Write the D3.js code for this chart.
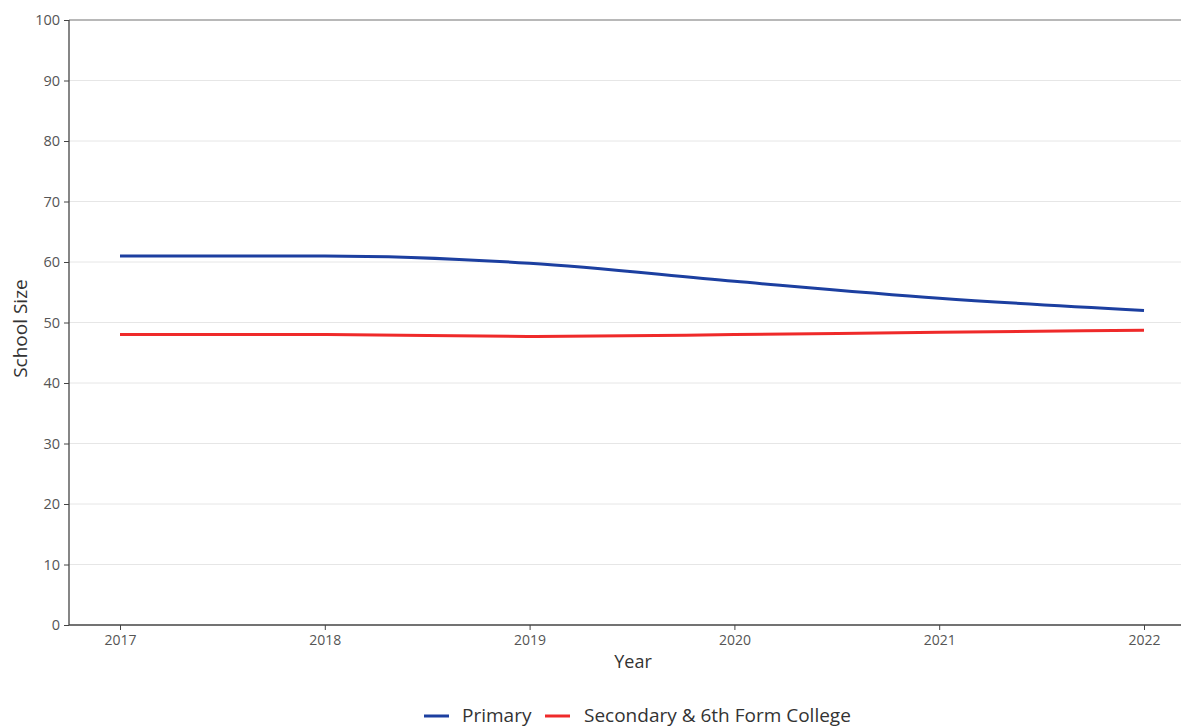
<!DOCTYPE html>
<html><head><meta charset="utf-8">
<script src="https://cdn.jsdelivr.net/npm/d3@7"></script>
<style>body{margin:0;background:#fff;font-family:"Open Sans","Noto Sans",sans-serif;}</style>
</head><body><svg id="c" width="1181" height="728"></svg>
<script>
const years = [2017, 2018, 2019, 2020, 2021, 2022];
const primary = [61.0, 61.0, 59.8, 56.8, 54.0, 52.0];
const secondary = [48.0, 48.0, 47.7, 48.0, 48.4, 48.7];
const yTicks = [0, 10, 20, 30, 40, 50, 60, 70, 80, 90, 100];
const seriesNames = ["Primary", "Secondary & 6th Form College"];
const seriesColors = ["#1c3fa0", "#ef2a2a"];

const svg = d3.select("#c");
const L = 69, R = 1181, T = 20, B = 625;
const x = d3.scaleLinear().domain([2017, 2022]).range([120, 1144]);
const y = d3.scaleLinear().domain([0, 100]).range([B, T]);

// gridlines
svg.append("g").selectAll("line").data(yTicks.filter(d => d > 0 && d < 100)).join("line")
  .attr("x1", L).attr("x2", R).attr("y1", d => y(d)).attr("y2", d => y(d))
  .attr("stroke", "#e6e6e6").attr("stroke-width", 1);
// top line
svg.append("line").attr("x1", L).attr("x2", R).attr("y1", y(100)).attr("y2", y(100))
  .attr("stroke", "#a0a0a0").attr("stroke-width", 1.3);

const yAxis = svg.append("g").attr("transform", `translate(${L},0)`)
  .call(d3.axisLeft(y).tickValues(yTicks).tickSize(5).tickPadding(4));
yAxis.select(".domain").attr("stroke", "#444").attr("stroke-width", 1.3).attr("d", `M0,${B}V${T}`);
yAxis.selectAll(".tick line").attr("stroke", "#444");
yAxis.selectAll("text").attr("fill", "#555").style("font-size", "14.5px").style("font-family", "Open Sans");

const xAxis = svg.append("g").attr("transform", `translate(0,${B})`)
  .call(d3.axisBottom(x).tickValues(years).tickFormat(d3.format("d")).tickSize(5).tickPadding(5));
xAxis.select(".domain").attr("stroke", "#444").attr("stroke-width", 1.3).attr("d", `M${L},0H${R}`);
xAxis.selectAll(".tick line").attr("stroke", "#444");
xAxis.selectAll("text").attr("fill", "#555").style("font-size", "14px").style("font-family", "Open Sans");

svg.append("text").attr("x", 633).attr("y", 668).attr("text-anchor", "middle")
  .attr("fill", "#333").style("font-size", "18px").text("Year");
svg.append("text").attr("transform", `translate(27,${y(49)}) rotate(-90)`).attr("text-anchor", "middle")
  .attr("fill", "#333").style("font-size", "19px").text("School Size");

const line = d3.line().x((d, i) => x(years[i])).y(d => y(d)).curve(d3.curveMonotoneX);
[primary, secondary].forEach((s, k) => {
  svg.append("path").datum(s).attr("d", line).attr("fill", "none")
    .attr("stroke", seriesColors[k]).attr("stroke-width", 3);
});

// legend
const lg = svg.append("g");
const items = [{x: 424, tx: 462}, {x: 545, tx: 584}];
seriesNames.forEach((n, k) => {
  lg.append("line").attr("x1", items[k].x).attr("x2", items[k].x + 25).attr("y1", 716).attr("y2", 716)
    .attr("stroke", seriesColors[k]).attr("stroke-width", 3);
  lg.append("text").attr("x", items[k].tx).attr("y", 722).attr("fill", "#333")
    .style("font-size", "19px").text(n);
});
</script></body></html>
